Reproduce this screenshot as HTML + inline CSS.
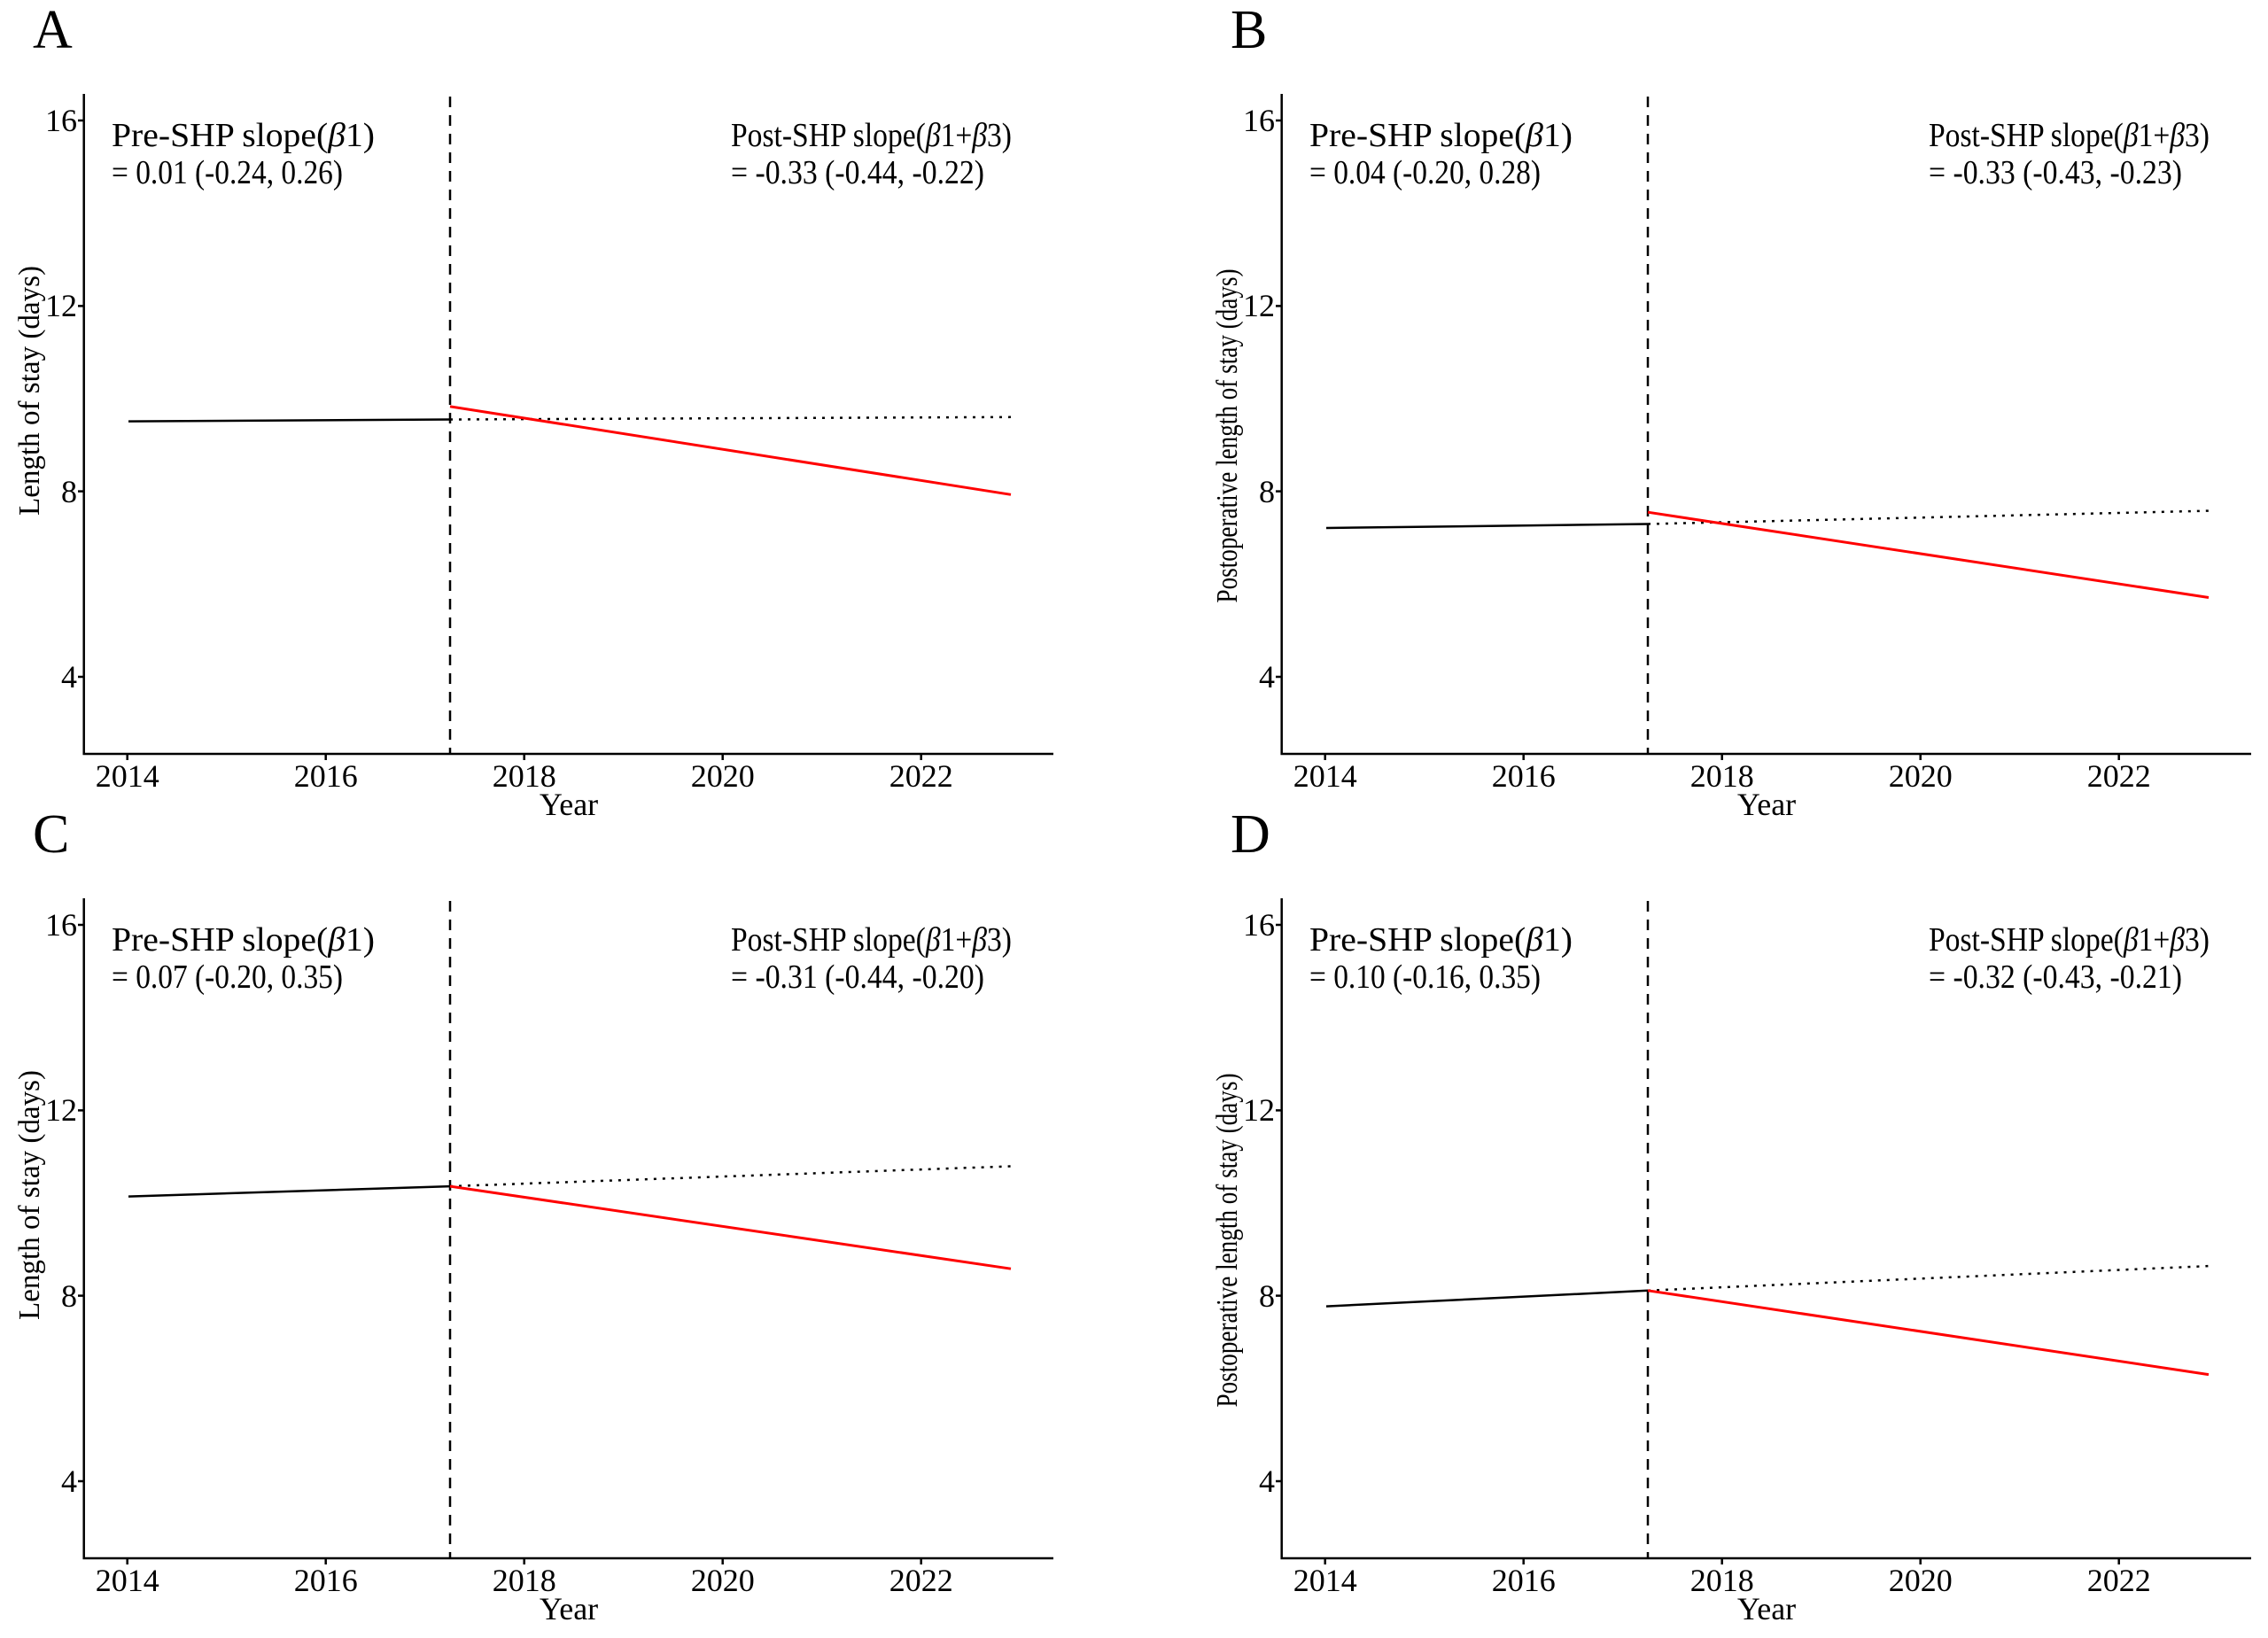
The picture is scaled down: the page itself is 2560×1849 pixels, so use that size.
<!DOCTYPE html>
<html><head><meta charset="utf-8"><style>html,body{margin:0;padding:0;background:#fff}svg{display:block}</style></head>
<body>
<svg width="2560" height="1849" viewBox="0 0 2560 1849" xmlns="http://www.w3.org/2000/svg" font-family="Liberation Serif, serif">
<defs>
<g id="ax">
  <path d="M94.7,106 V851 H1189" fill="none" stroke="#000" stroke-width="2.5"/>
  <g stroke="#000" stroke-width="2.5">
    <line x1="88" y1="136" x2="94.7" y2="136"/>
    <line x1="88" y1="345.4" x2="94.7" y2="345.4"/>
    <line x1="88" y1="554.6" x2="94.7" y2="554.6"/>
    <line x1="88" y1="764" x2="94.7" y2="764"/>
    <line x1="143.7" y1="851" x2="143.7" y2="858"/>
    <line x1="367.7" y1="851" x2="367.7" y2="858"/>
    <line x1="591.7" y1="851" x2="591.7" y2="858"/>
    <line x1="815.7" y1="851" x2="815.7" y2="858"/>
    <line x1="1039.7" y1="851" x2="1039.7" y2="858"/>
  </g>
  <g font-size="36" text-anchor="end" fill="#000">
    <text x="87" y="148">16</text><text x="87" y="357">12</text><text x="87" y="567">8</text><text x="87" y="776">4</text>
  </g>
  <g font-size="36" text-anchor="middle" fill="#000">
    <text x="143.7" y="888">2014</text><text x="367.7" y="888">2016</text><text x="591.7" y="888">2018</text><text x="815.7" y="888">2020</text><text x="1039.7" y="888">2022</text>
    <text x="642" y="920">Year</text>
  </g>
  <line x1="508" y1="109" x2="508" y2="851" stroke="#000" stroke-width="2.5" stroke-dasharray="12,9"/>
</g>
</defs>

<!-- A -->
<g>
  <text x="37" y="54" font-size="62">A</text>
  <use href="#ax"/>
  <text transform="translate(44,441) rotate(-90)" font-size="34" text-anchor="middle" textLength="282" lengthAdjust="spacingAndGlyphs">Length of stay (days)</text>
  <text x="126" y="165" font-size="38" textLength="297" lengthAdjust="spacingAndGlyphs">Pre-SHP slope(<tspan font-style="italic">β</tspan>1)</text>
  <text x="126" y="207" font-size="38" textLength="261" lengthAdjust="spacingAndGlyphs">= 0.01 (-0.24, 0.26)</text>
  <text x="825" y="165" font-size="38" textLength="317" lengthAdjust="spacingAndGlyphs">Post-SHP slope(<tspan font-style="italic">β</tspan>1+<tspan font-style="italic">β</tspan>3)</text>
  <text x="825" y="207" font-size="38" textLength="286" lengthAdjust="spacingAndGlyphs">= -0.33 (-0.44, -0.22)</text>
  <line x1="145" y1="475.6" x2="508" y2="473.5" stroke="#000" stroke-width="2.5"/>
  <line x1="508" y1="473.5" x2="1141" y2="470.8" stroke="#000" stroke-width="2.5" stroke-dasharray="3,7"/>
  <line x1="508" y1="458.8" x2="1141" y2="558.3" stroke="#f00" stroke-width="3"/>
</g>

<!-- B -->
<g transform="translate(1352,0)">
  <text x="37" y="54" font-size="62">B</text>
  <use href="#ax"/>
  <text transform="translate(44,492) rotate(-90)" font-size="34" text-anchor="middle" textLength="377" lengthAdjust="spacingAndGlyphs">Postoperative length of stay (days)</text>
  <text x="126" y="165" font-size="38" textLength="297" lengthAdjust="spacingAndGlyphs">Pre-SHP slope(<tspan font-style="italic">β</tspan>1)</text>
  <text x="126" y="207" font-size="38" textLength="261" lengthAdjust="spacingAndGlyphs">= 0.04 (-0.20, 0.28)</text>
  <text x="825" y="165" font-size="38" textLength="317" lengthAdjust="spacingAndGlyphs">Post-SHP slope(<tspan font-style="italic">β</tspan>1+<tspan font-style="italic">β</tspan>3)</text>
  <text x="825" y="207" font-size="38" textLength="286" lengthAdjust="spacingAndGlyphs">= -0.33 (-0.43, -0.23)</text>
  <line x1="145" y1="596" x2="508" y2="591.5" stroke="#000" stroke-width="2.5"/>
  <line x1="508" y1="591.5" x2="1141" y2="576.6" stroke="#000" stroke-width="2.5" stroke-dasharray="3,7"/>
  <line x1="508" y1="578.2" x2="1141" y2="674.5" stroke="#f00" stroke-width="3"/>
</g>

<!-- C -->
<g transform="translate(0,908)">
  <text x="37" y="54" font-size="62">C</text>
  <use href="#ax"/>
  <text transform="translate(44,441) rotate(-90)" font-size="34" text-anchor="middle" textLength="282" lengthAdjust="spacingAndGlyphs">Length of stay (days)</text>
  <text x="126" y="165" font-size="38" textLength="297" lengthAdjust="spacingAndGlyphs">Pre-SHP slope(<tspan font-style="italic">β</tspan>1)</text>
  <text x="126" y="207" font-size="38" textLength="261" lengthAdjust="spacingAndGlyphs">= 0.07 (-0.20, 0.35)</text>
  <text x="825" y="165" font-size="38" textLength="317" lengthAdjust="spacingAndGlyphs">Post-SHP slope(<tspan font-style="italic">β</tspan>1+<tspan font-style="italic">β</tspan>3)</text>
  <text x="825" y="207" font-size="38" textLength="286" lengthAdjust="spacingAndGlyphs">= -0.31 (-0.44, -0.20)</text>
  <line x1="145" y1="442.6" x2="508" y2="431.1" stroke="#000" stroke-width="2.5"/>
  <line x1="508" y1="431.1" x2="1141" y2="408.5" stroke="#000" stroke-width="2.5" stroke-dasharray="3,7"/>
  <line x1="508" y1="431.1" x2="1141" y2="524.2" stroke="#f00" stroke-width="3"/>
</g>

<!-- D -->
<g transform="translate(1352,908)">
  <text x="37" y="54" font-size="62">D</text>
  <use href="#ax"/>
  <text transform="translate(44,492) rotate(-90)" font-size="34" text-anchor="middle" textLength="377" lengthAdjust="spacingAndGlyphs">Postoperative length of stay (days)</text>
  <text x="126" y="165" font-size="38" textLength="297" lengthAdjust="spacingAndGlyphs">Pre-SHP slope(<tspan font-style="italic">β</tspan>1)</text>
  <text x="126" y="207" font-size="38" textLength="261" lengthAdjust="spacingAndGlyphs">= 0.10 (-0.16, 0.35)</text>
  <text x="825" y="165" font-size="38" textLength="317" lengthAdjust="spacingAndGlyphs">Post-SHP slope(<tspan font-style="italic">β</tspan>1+<tspan font-style="italic">β</tspan>3)</text>
  <text x="825" y="207" font-size="38" textLength="286" lengthAdjust="spacingAndGlyphs">= -0.32 (-0.43, -0.21)</text>
  <line x1="145" y1="566.6" x2="508" y2="548.8" stroke="#000" stroke-width="2.5"/>
  <line x1="508" y1="548.8" x2="1141" y2="521.1" stroke="#000" stroke-width="2.5" stroke-dasharray="3,7"/>
  <line x1="508" y1="548.8" x2="1141" y2="643.6" stroke="#f00" stroke-width="3"/>
</g>
</svg>
</body></html>
